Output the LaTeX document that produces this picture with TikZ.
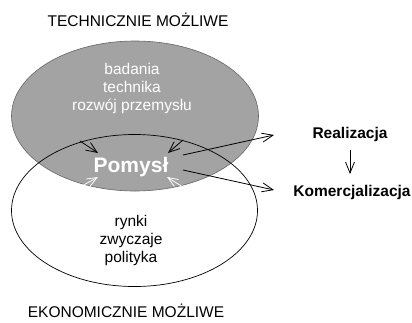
\documentclass[tikz,border=0pt]{standalone}
\usepackage{fontspec}
\setmainfont{Liberation Sans}
\usetikzlibrary{arrows.meta}
\definecolor{ellgray}{HTML}{A3A3A3}
\tikzset{
  lbl/.style={font=\fontsize{15.5}{18}\selectfont, inner sep=0pt, align=center},
  whitelbl/.style={lbl, text=white},
  boldlbl/.style={font=\fontsize{15.5}{18}\selectfont\bfseries, inner sep=0pt},
  arr/.style={-{Straight Barb[length=11pt,width=9pt]}, line width=0.8pt, black},
  warr/.style={-{Straight Barb[length=10pt,width=8pt]}, line width=0.8pt, white},
}
\begin{document}
\begin{tikzpicture}[x=1pt,y=-1pt]
\useasboundingbox (0,0) rectangle (412,322);
% ellipses
\fill[ellgray, draw=gray!80!black, line width=0.6pt] (135,116) ellipse [x radius=123.5, y radius=75];
\draw[black, line width=0.7pt] (134.5,210.5) ellipse [x radius=123, y radius=76];
% titles
\node[lbl] (top) at (138,20) {TECHNICZNIE MOŻLIWE};
\node[lbl] (bot) at (126,311) {EKONOMICZNIE MOŻLIWE};
% texts in ellipses
\node[whitelbl] (tech) at (132,88) {badania\\technika\\rozwój przemysłu};
\node[lbl] (eko) at (131,240) {rynki\\zwyczaje\\polityka};
\node[font=\fontsize{21}{24}\selectfont\bfseries, text=white, inner sep=0pt] (pomysl) at (131,167) {Pomysł};
% right labels
\node[boldlbl] (real) at (350,134) {Realizacja};
\node[boldlbl] (kom) at (352,192) {Komercjalizacja};
% inner arrows
\coordinate (a1) at (80,141);
\coordinate (a1e) at (98,153);
\coordinate (a2) at (183,140);
\coordinate (a2e) at (168,153);
\coordinate (w1) at (82,186);
\coordinate (w1e) at (98,177);
\coordinate (w2) at (183,187);
\coordinate (w2e) at (167,177);
\coordinate (r1) at (183,155);
\coordinate (r1e) at (274,135);
\coordinate (r2) at (183,170);
\coordinate (r2e) at (274,190);
\coordinate (d1) at (350,150);
\coordinate (d1e) at (350,174);
\draw[arr] (a1) -- (a1e);
\draw[arr] (a2) -- (a2e);
\draw[warr] (w1) -- (w1e);
\draw[warr] (w2) -- (w2e);
% outer arrows
\draw[arr] (r1) -- (r1e);
\draw[arr] (r2) -- (r2e);
\draw[arr] (d1) -- (d1e);
\end{tikzpicture}
\end{document}
